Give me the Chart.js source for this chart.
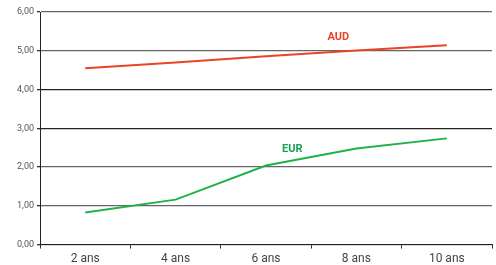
<!DOCTYPE html>
<html>
<head>
<meta charset="utf-8">
<script src="https://cdn.jsdelivr.net/npm/chart.js@4"></script>
<style>
  html, body { margin: 0; padding: 0; background: #fff; }
  #wrap { width: 496px; height: 265px; position: relative; }
</style>
</head>
<body>
<div id="wrap"><canvas id="chart"></canvas></div>
<script>
const labels = ['2 ans', '4 ans', '6 ans', '8 ans', '10 ans'];
const audValues = [4.55, 4.70, 4.86, 5.01, 5.14];
const eurValues = [0.83, 1.16, 2.04, 2.48, 2.74];
const yTicks = [0, 1, 2, 3, 4, 5, 6];

const red = 'rgb(234, 67, 38)';
const green = 'rgb(32, 178, 72)';

// x pixel between two categories (fractional index)
function xAt(xs, pos) {
  const i = Math.floor(pos), f = pos - i;
  const a = xs.getPixelForValue(i), b = xs.getPixelForValue(i + 1);
  return a + (b - a) * f;
}

// series names written next to the lines
const seriesTags = {
  id: 'seriesTags',
  afterDatasetsDraw(chart) {
    const c = chart.ctx;
    const xs = chart.scales.x, ys = chart.scales.y;
    c.save();
    c.font = 'bold 11px "Roboto"';
    c.textAlign = 'center';
    c.textBaseline = 'middle';
    c.fillStyle = red;
    c.fillText('AUD', xAt(xs, 2.8), ys.getPixelForValue(5.35));
    c.fillStyle = 'rgb(26, 160, 90)';
    c.fillText('EUR', xAt(xs, 2.29), ys.getPixelForValue(2.45));
    c.restore();
  }
};

new Chart(document.getElementById('chart'), {
  type: 'line',
  data: {
    labels: labels,
    datasets: [{
      label: 'AUD',
      data: audValues,
      borderColor: red,
      borderWidth: 2,
      pointRadius: 0,
      tension: 0
    }, {
      label: 'EUR',
      data: eurValues,
      borderColor: green,
      borderWidth: 2,
      pointRadius: 0,
      tension: 0
    }]
  },
  options: {
    responsive: true,
    maintainAspectRatio: false,
    animation: false,
    layout: { padding: { top: 12, right: 4, left: 0, bottom: -4 } },
    plugins: { legend: { display: false }, tooltip: { enabled: false } },
    scales: {
      x: {
        offset: true,
        grid: {
          offset: true,
          color: ctx => ctx.index === labels.length ? '#555' : 'rgba(0,0,0,0)',
          tickColor: '#333',
          tickLength: 4,
          lineWidth: 1
        },
        border: { color: '#222', width: 1 },
        ticks: { color: '#444', font: { family: 'Roboto', size: 12 }, padding: 3 }
      },
      y: {
        min: 0,
        max: 6,
        afterFit: axis => { axis.width = 40; },
        afterBuildTicks: axis => { axis.ticks = yTicks.map(v => ({ value: v })); },
        grid: {
          color: ctx => [4, 3].includes(ctx.tick && ctx.tick.value) ? '#222' : '#666',
          tickColor: '#333',
          tickLength: 3,
          lineWidth: 1.3
        },
        border: { color: '#222', width: 1 },
        ticks: {
          color: '#555',
          font: { family: 'Roboto', size: 9 },
          padding: 3,
          callback: v => v.toFixed(2).replace('.', ',')
        }
      }
    }
  },
  plugins: [seriesTags]
});
</script>
</body>
</html>
